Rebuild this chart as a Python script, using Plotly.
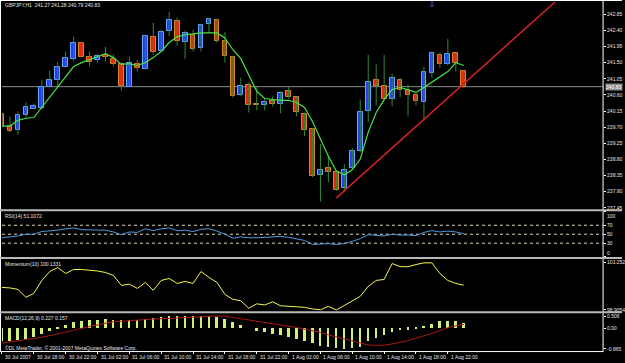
import plotly.graph_objects as go

# ---------------- data ----------------
SYMBOL = "GBPJPY,H1"
OPEN = [240.06, 239.73, 239.62, 240.03, 240.22, 240.23, 240.83, 241.03, 241.39, 241.61,
        242.05, 241.67, 241.58, 241.72, 241.61, 241.45, 240.83, 241.45, 241.33, 242.22,
        241.83, 242.39, 242.66, 242.08, 242.28, 241.92, 242.58, 242.69, 242.11, 241.67,
        240.59, 240.89, 240.36, 240.33, 240.42, 240.36, 240.70, 240.53, 240.06, 239.64,
        238.37, 238.56, 238.45, 238.00, 238.56, 239.03, 240.14, 241.03, 240.86, 240.50,
        241.03, 240.75, 240.59, 240.39, 241.22, 241.72, 241.45, 241.78, 241.27]
HIGH = [240.11, 240.00, 240.14, 240.39, 240.36, 241.03, 241.28, 241.53, 241.81, 242.22,
        242.08, 241.81, 241.75, 241.94, 241.72, 241.50, 241.67, 241.58, 242.28, 242.61,
        242.42, 242.91, 242.75, 242.39, 242.42, 242.58, 242.75, 242.72, 242.36, 241.69,
        241.08, 240.95, 240.81, 240.50, 240.56, 240.70, 240.83, 240.56, 240.11, 239.67,
        239.23, 238.89, 238.48, 238.67, 239.12, 240.47, 241.72, 241.45, 241.72, 241.20,
        241.08, 240.89, 240.67, 241.39, 241.81, 241.78, 242.16, 241.78, 241.28]
LOW = [239.70, 239.56, 239.50, 239.97, 240.20, 240.20, 240.81, 240.83, 241.36, 241.53,
       241.64, 241.39, 241.50, 241.53, 241.39, 240.72, 240.83, 241.25, 241.31, 241.72,
       241.81, 242.25, 241.97, 241.61, 241.81, 241.81, 242.33, 242.05, 241.50, 240.53,
       240.56, 240.11, 240.17, 240.17, 240.28, 240.09, 240.50, 240.00, 239.45, 238.31,
       237.62, 238.17, 237.92, 237.90, 238.53, 239.00, 239.84, 240.31, 240.47, 240.28,
       240.53, 240.00, 240.31, 239.92, 241.08, 241.36, 241.42, 241.25, 240.79]
CLOSE = [239.73, 239.59, 240.03, 240.25, 240.28, 240.83, 241.03, 241.39, 241.64, 242.05,
         241.67, 241.53, 241.69, 241.67, 241.47, 240.86, 241.50, 241.36, 242.25, 241.81,
         242.36, 242.69, 242.11, 242.33, 241.89, 242.55, 242.72, 242.11, 241.69, 240.56,
         240.86, 240.33, 240.33, 240.39, 240.36, 240.64, 240.53, 240.11, 239.62, 238.34,
         238.51, 238.45, 237.95, 238.51, 239.03, 240.11, 240.97, 240.86, 240.50, 241.06,
         240.75, 240.59, 240.42, 241.25, 241.78, 241.47, 241.75, 241.50, 240.83]
MA = [239.73, 239.73, 239.89, 239.95, 239.97, 240.25, 240.53, 240.81, 241.11, 241.39,
      241.50, 241.58, 241.67, 241.75, 241.64, 241.45, 241.47, 241.42, 241.50, 241.64,
      241.81, 242.06, 242.22, 242.28, 242.30, 242.33, 242.33, 242.33, 242.19, 241.86,
      241.61, 241.17, 240.70, 240.50, 240.47, 240.45, 240.45, 240.39, 240.25, 239.86,
      239.37, 238.89, 238.48, 238.37, 238.51, 238.81, 239.56, 240.11, 240.47, 240.75,
      240.81, 240.75, 240.67, 240.81, 240.95, 241.11, 241.25, 241.50, 241.42]
RSI = [42, 44, 46, 50, 50, 56, 57, 59, 62, 64, 60, 60, 60, 59, 55, 49, 55, 54, 62, 58,
       62, 64, 58, 59, 56, 61, 62, 57, 50, 41, 44, 42, 42, 43, 43, 45, 43, 40, 36, 27,
       28, 29, 27, 29, 34, 40, 49, 48, 46, 50, 48, 48, 47, 54, 58, 55, 57, 55, 51.1072]
MOM = [100.023, 99.998, 99.925, 99.531, 99.728, 100.368, 100.811, 101.008, 100.713, 100.910,
       100.910, 100.885, 100.836, 100.762, 100.614, 100.122, 100.186, 99.974, 100.270, 99.876,
       100.368, 100.466, 100.220, 100.319, 100.220, 100.811, 100.516, 100.270, 99.679, 99.432,
       99.359, 98.989, 99.211, 99.152, 99.309, 99.112, 99.073, 99.063, 99.038, 98.955,
       98.915, 99.088, 98.906, 99.137, 99.334, 99.580, 100.073, 100.368, 100.417, 101.205,
       101.057, 101.043, 101.156, 101.240, 101.240, 100.713, 100.368, 100.220, 100.1331]
MACD = [-0.55, -0.53, -0.51, -0.46, -0.37, -0.24, -0.14, -0.02, 0.14, 0.25,
        0.28, 0.35, 0.35, 0.37, 0.32, 0.32, 0.32, 0.32, 0.37, 0.41,
        0.46, 0.51, 0.48, 0.48, 0.48, 0.51, 0.506, 0.46, 0.37, 0.24,
        0.12, 0.0, -0.14, -0.18, -0.25, -0.30, -0.37, -0.46, -0.53, -0.62,
        -0.75, -0.80, -0.85, -0.865, -0.84, -0.78, -0.55, -0.42, -0.28, -0.17,
        -0.10, -0.07, -0.04, 0.04, 0.17, 0.28, 0.31, 0.30, 0.227]
SIGNAL = [-0.62, -0.58, -0.53, -0.48, -0.43, -0.38, -0.32, -0.25, -0.17, -0.08,
          0.0, 0.07, 0.14, 0.21, 0.27, 0.30, 0.33, 0.35, 0.36, 0.38,
          0.40, 0.42, 0.43, 0.45, 0.46, 0.48, 0.50, 0.51, 0.50, 0.45,
          0.39, 0.35, 0.30, 0.25, 0.20, 0.15, 0.09, 0.03, -0.04, -0.10,
          -0.18, -0.28, -0.37, -0.46, -0.55, -0.63, -0.70, -0.72, -0.71, -0.66,
          -0.60, -0.52, -0.42, -0.33, -0.22, -0.10, 0.02, 0.10, 0.157]
TIME_LABELS = ["30 Jul 2007", "30 Jul 18:00", "30 Jul 22:00", "31 Jul 02:00", "31 Jul 06:00",
               "31 Jul 10:00", "31 Jul 14:00", "31 Jul 18:00", "31 Jul 22:00", "1 Aug 02:00",
               "1 Aug 06:00", "1 Aug 10:00", "1 Aug 14:00", "1 Aug 18:00", "1 Aug 22:00"]
TIME_LABEL_BARS = [0, 4, 8, 12, 16, 20, 24, 28, 32, 36, 40, 44, 48, 52, 56]
PRICE_TICKS = [242.85, 242.40, 241.95, 241.50, 241.05, 240.60, 240.15, 239.70,
               239.25, 238.80, 238.35, 237.90, 237.45]
RSI_TICKS = [100, 70, 50, 30, 0]
RSI_LEVELS = [70, 50, 30]
MOM_TICKS = [101.2542, 98.9054]
MOM_TICK_TEXT = ["101.252", "98.9054"]
MACD_TICKS = [0.506, 0.0, -0.865]
MACD_TICK_TEXT = ["0.506", "0.00", "-0.865"]
TREND_BARS = [42, 70]
TREND_PRICES = [237.73, 243.30]
ARROW_BAR = 54
ARROW_PRICE = 243.11
RSI_TITLE = "RSI(14) 51.1072"
MOM_TITLE = "Momentum(10) 100.1331"
MACD_TITLE = "MACD(12,26,9) 0.227 0.157"
FOOTER = "©DL MetaTrader, © 2001-2007 MetaQuotes Software Corp."

# ---------------- styling / layout ----------------
W, H = 625, 363
FONT = "Liberation Sans"
TXT = "#e6e6e6"


def fy(p):
    return 1 - p / H


def fx(p):
    return p / W


bars = list(range(len(CLOSE)))
X_DOM = [fx(2), fx(606)]
X_RANGE = [0, 75.5]

fig = go.Figure()

# wicks
wx, wy = [], []
for k in bars:
    wx += [k, k, None]
    wy += [LOW[k], HIGH[k], None]
fig.add_trace(go.Scatter(x=wx, y=wy, mode="lines", line=dict(color="#2f8a2f", width=1),
                         xaxis="x", yaxis="y", hoverinfo="skip", showlegend=False))

# bodies
up = [k for k in bars if CLOSE[k] >= OPEN[k]]
dn = [k for k in bars if CLOSE[k] < OPEN[k]]
fig.add_trace(go.Bar(x=up, base=[OPEN[k] for k in up], y=[CLOSE[k] - OPEN[k] for k in up],
                     width=0.6, marker=dict(color="#1f3ff0", line=dict(color="#6aa6ff", width=1)),
                     xaxis="x", yaxis="y", showlegend=False))
fig.add_trace(go.Bar(x=dn, base=[CLOSE[k] for k in dn], y=[OPEN[k] - CLOSE[k] for k in dn],
                     width=0.6, marker=dict(color="#e8230e", line=dict(color="#d8882a", width=1)),
                     xaxis="x", yaxis="y", showlegend=False))

# moving average
fig.add_trace(go.Scatter(x=bars, y=MA, mode="lines", line=dict(color="#46e046", width=1.2),
                         xaxis="x", yaxis="y", showlegend=False))
# trend line
fig.add_trace(go.Scatter(x=TREND_BARS, y=TREND_PRICES, mode="lines",
                         line=dict(color="#d42222", width=1.5), xaxis="x", yaxis="y",
                         showlegend=False))
# arrow marker
fig.add_trace(go.Scatter(x=[ARROW_BAR], y=[ARROW_PRICE], mode="text", text=["⇩"],
                         textfont=dict(color="#b478dc", size=8, family="DejaVu Sans"),
                         xaxis="x", yaxis="y", showlegend=False, cliponaxis=False))

# RSI
fig.add_trace(go.Scatter(x=bars, y=RSI, mode="lines", line=dict(color="#4f9be0", width=1),
                         xaxis="x2", yaxis="y2", showlegend=False))
# Momentum
fig.add_trace(go.Scatter(x=bars, y=MOM, mode="lines", line=dict(color="#f5f550", width=1),
                         xaxis="x3", yaxis="y3", showlegend=False))
# MACD
fig.add_trace(go.Bar(x=bars, y=MACD, width=0.25, marker=dict(color="#cdf07e", line=dict(width=0)),
                     xaxis="x4", yaxis="y4", showlegend=False))
fig.add_trace(go.Scatter(x=bars, y=SIGNAL, mode="lines", line=dict(color="#a81616", width=1),
                         xaxis="x4", yaxis="y4", showlegend=False))

tickfont = dict(family=FONT, size=5, color=TXT)
xax = dict(domain=X_DOM, range=X_RANGE, showgrid=False, zeroline=False, showline=False,
           showticklabels=False, fixedrange=True)
yax = dict(side="right", showgrid=False, zeroline=False, showline=False, ticks="outside",
           ticklen=2, tickcolor="#ffffff", tickfont=tickfont, fixedrange=True)

shapes = []
# current price line
shapes.append(dict(type="line", xref="x domain", yref="y", x0=0, x1=1, y0=CLOSE[-1], y1=CLOSE[-1],
                   line=dict(color="#8a8a8a", width=1), layer="below"))
for lv in RSI_LEVELS:
    shapes.append(dict(type="line", xref="x2 domain", yref="y2", x0=0, x1=1, y0=lv, y1=lv,
                       line=dict(color="#d8d8b8", width=1, dash="dot"), layer="below"))
# frame / separators
frame = "#ffffff"
sep = "#b8b8b8"
shapes += [
    dict(type="line", xref="paper", yref="paper", x0=0, x1=1, y0=fy(0.5), y1=fy(0.5),
         line=dict(color=frame, width=1)),
    dict(type="line", xref="paper", yref="paper", x0=fx(0.5), x1=fx(0.5), y0=fy(354), y1=1,
         line=dict(color=frame, width=1)),
    dict(type="line", xref="paper", yref="paper", x0=fx(606), x1=fx(606), y0=fy(354), y1=1,
         line=dict(color=frame, width=1)),
    dict(type="line", xref="paper", yref="paper", x0=0, x1=1, y0=fy(211.5), y1=fy(211.5),
         line=dict(color=sep, width=2)),
    dict(type="line", xref="paper", yref="paper", x0=0, x1=1, y0=fy(259.5), y1=fy(259.5),
         line=dict(color=sep, width=2)),
    dict(type="line", xref="paper", yref="paper", x0=0, x1=1, y0=fy(314), y1=fy(314),
         line=dict(color=sep, width=2)),
    dict(type="line", xref="paper", yref="paper", x0=0, x1=fx(606), y0=fy(353.5), y1=fy(353.5),
         line=dict(color=frame, width=1)),
]

annotations = []
header = f"{SYMBOL}  {OPEN[-1]:.2f} {HIGH[-1]:.2f} {LOW[-1]:.2f} {CLOSE[-1]:.2f}"
for text, py in [(header, 5), (RSI_TITLE, 217), (MOM_TITLE, 265), (MACD_TITLE, 320),
                 (FOOTER, 349.5)]:
    annotations.append(dict(text=text, xref="paper", yref="paper", x=fx(3), y=fy(py),
                            xanchor="left", yanchor="middle", showarrow=False,
                            font=dict(family=FONT, size=5, color=TXT)))
for lab, k in zip(TIME_LABELS, TIME_LABEL_BARS):
    annotations.append(dict(text=lab, xref="x4", yref="paper", x=k, y=fy(359),
                            xanchor="left", yanchor="middle", showarrow=False, xshift=1,
                            font=dict(family=FONT, size=5, color=TXT)))
# RSI scale end labels drawn inside the panel (as MetaTrader does)
rsi_ends = [RSI_TICKS[0], RSI_TICKS[-1]]
for v, anchor in zip(rsi_ends, ["top", "bottom"]):
    annotations.append(dict(text=str(v), xref="paper", yref="y2", x=fx(609), y=v,
                            xanchor="left", yanchor=anchor, showarrow=False, borderpad=0,
                            font=dict(family=FONT, size=5, color=TXT)))
# current price label
annotations.append(dict(text=f"{CLOSE[-1]:.2f}", xref="paper", yref="y", x=fx(608), y=CLOSE[-1],
                        xanchor="left", yanchor="middle", showarrow=False, bgcolor="#8c8c8c",
                        borderpad=0, font=dict(family=FONT, size=5, color="#ffffff")))

fig.update_layout(
    width=W, height=H, margin=dict(l=0, r=0, t=0, b=0),
    paper_bgcolor="#000000", plot_bgcolor="#000000",
    barmode="overlay", bargap=0, showlegend=False,
    xaxis=dict(xax, anchor="y"),
    xaxis2=dict(xax, anchor="y2", matches="x"),
    xaxis3=dict(xax, anchor="y3", matches="x"),
    xaxis4=dict(xax, anchor="y4", matches="x", ticks="outside", ticklen=2, tickcolor="#ffffff",
                tickvals=TIME_LABEL_BARS),
    yaxis=dict(yax, anchor="x", domain=[fy(210), fy(2)], range=[237.423, 243.191],
               tickvals=PRICE_TICKS, ticktext=[f"{v:.2f}" for v in PRICE_TICKS]),
    yaxis2=dict(yax, anchor="x2", domain=[fy(258), fy(213)], range=[0, 100],
                tickvals=RSI_TICKS,
                ticktext=["" if v in rsi_ends else str(v) for v in RSI_TICKS]),
    yaxis3=dict(yax, anchor="x3", domain=[fy(313), fy(261)], range=[98.841, 101.402],
                tickvals=MOM_TICKS, ticktext=MOM_TICK_TEXT),
    yaxis4=dict(yax, anchor="x4", domain=[fy(353), fy(315)], range=[-0.958, 0.625],
                tickvals=MACD_TICKS, ticktext=MACD_TICK_TEXT),
    shapes=shapes, annotations=annotations,
)

fig.write_html("out.html")
